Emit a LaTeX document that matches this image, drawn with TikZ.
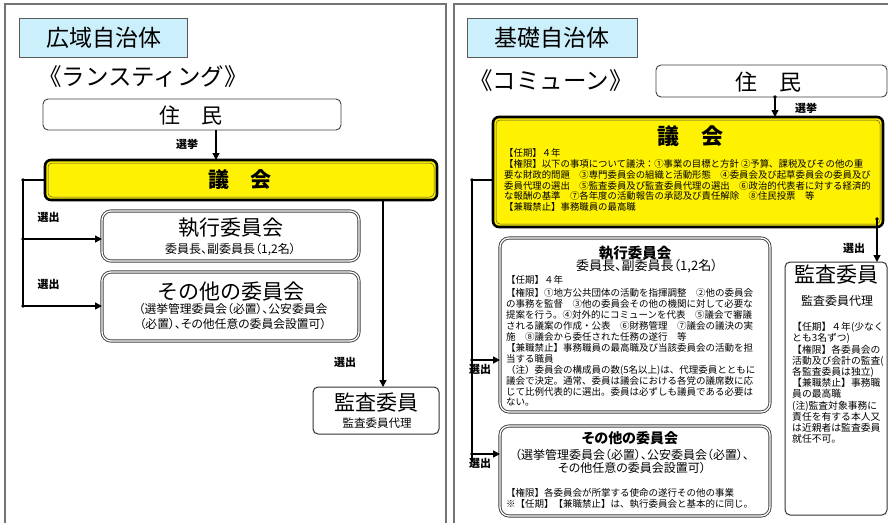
\documentclass[tikz,border=0pt]{standalone}
\usepackage{fontspec}
\setmainfont{Noto Sans CJK JP}
\newfontfamily\jpp[RawFeature=+palt]{Noto Sans CJK JP}
\usetikzlibrary{arrows.meta}
\newcommand\fsz[2]{\fontsize{#1}{#2}\selectfont}
\begin{document}
\begin{tikzpicture}[x=1pt,y=-1pt,
  panel/.style={draw=black!55,line width=1.1pt},
  box/.style={rectangle,inner sep=0pt,outer sep=0pt},
  titlebox/.style={box,draw=black!65,fill=cyan!20,line width=1pt},
  resbox/.style={box,draw=black!75,line width=0.9pt,rounded corners=5pt,fill=white},
  gikaibox/.style={box,draw=black,line width=2.6pt,rounded corners=6pt,fill=yellow},
  dblbox/.style={box,draw=black!75,double=white,double distance=1.3pt,line width=0.9pt,rounded corners=9pt},
  auditbox/.style={box,draw=black!80,line width=1pt,rounded corners=5pt,fill=white},
  conn/.style={line width=1.4pt,black},
  arr/.style={conn,-{Triangle[length=7pt,width=7pt]}},
  lbl/.style={font=\fsz{11}{11}\bfseries,inner sep=0pt},
  body/.style={anchor=north west,align=left,inner sep=0pt}
]
\useasboundingbox (0,0) rectangle (888,522);
\fill[white] (0,0) rectangle (888,522);
% panels
\draw[panel] (5,530) |- (446,4) -- (446,530);
\draw[panel] (454,530) |- (895,4);

% ================= LEFT PANEL =================
\node[titlebox,minimum width=168pt,minimum height=39pt] (tL) at (103,37.5) {};
\node[font=\fsz{23}{23}] (tLt) at (103.5,38) {広域自治体};
\node[font=\fsz{23.5}{24}] (sL) at (143,77) {《ランスティング》};

\node[resbox,minimum width=298pt,minimum height=31pt] (resL) at (192,114.5) {};
\node[font=\fsz{21}{21}] (resLt) at (191,115) {住　民};

\node[gikaibox,minimum width=392pt,minimum height=40pt] (gL) at (241,180) {};
\draw[black!60!yellow!60!black,line width=0.5pt,rounded corners=4pt]
  ([shift={(3,3)}]gL.north west) rectangle ([shift={(-3,-3)}]gL.south east);
\node[font=\fsz{21}{21}\bfseries] (gLt) at (240,180) {議　会};

\node[dblbox,minimum width=257pt,minimum height=50pt] (exL) at (230.5,236) {};
\node[font=\fsz{21}{21}] (exLt) at (230.5,228) {執行委員会};
\node[font=\jpp\fsz{12}{12}] (exLs) at (230.5,249.5) {委員長、副委員長（1,2名）};

\node[dblbox,minimum width=257pt,minimum height=69pt] (otL) at (230.5,306.5) {};
\node[font=\fsz{21}{21}] (otLt) at (231,291.5) {その他の委員会};
\node[font=\jpp\fsz{11.8}{15},align=center] (otLs) at (233,316.5) {（選挙管理委員会（必置）、公安委員会\\（必置）、その他任意の委員会設置可）};

\node[auditbox,minimum width=126pt,minimum height=47pt] (auL) at (376,410.5) {};
\node[font=\fsz{21}{21}] (auLt) at (376,402.5) {監査委員};
\node[font=\fsz{11.5}{12}] (auLs) at (377,423) {監査委員代理};

% connectors left
\draw[arr] ([xshift=24pt]resL.south) -- ([xshift=24pt]resL.south |- gL.north);
\node[lbl] (senkyoL) at (187,144) {選挙};

\coordinate (bL1) at (23,180);
\coordinate (bL2) at (23,239);
\coordinate (bL3) at (23,306);
\draw[conn] (gL.west) -- (bL1) -- (bL3);
\draw[arr] (bL2) -- (bL2 -| exL.west);
\draw[arr] (bL3) -- (bL3 -| otL.west);
\foreach \c in {bL1,bL2,bL3} \fill (\c) circle (1.9pt);
\node[lbl] (senL1) at (48.5,217) {選出};
\node[lbl] (senL2) at (48.5,284) {選出};

\coordinate (cL) at (383,201);
\draw[arr] (cL) -- (cL |- auL.north);
\node[lbl] (senL3) at (345,362) {選出};

% ================= RIGHT PANEL =================
\node[titlebox,minimum width=170pt,minimum height=39pt] (tR) at (552,37.5) {};
\node[font=\fsz{23}{23}] (tRt) at (552,38) {基礎自治体};
\node[font=\fsz{23.5}{24}] (sR) at (551,81) {《コミューン》};

\node[resbox,minimum width=231pt,minimum height=32pt] (resR) at (771.5,81) {};
\node[font=\fsz{22}{22}] (resRt) at (768,82) {住　民};

\node[gikaibox,minimum width=390pt,minimum height=110pt] (gR) at (688,172) {};
\draw[black!60!yellow!60!black,line width=0.5pt,rounded corners=4pt]
  ([shift={(3,3)}]gR.north west) rectangle ([shift={(-3,-3)}]gR.south east);
\node[font=\fsz{22}{22}\bfseries] (gRt) at (690,136.5) {議　会};
\node[body,font=\fsz{9.4}{10.8}] (gRb) at (504,148.5) {%
【任期】４年\\
【権限】以下の事項について議決：①事業の目標と方針 ②予算、課税及びその他の重\\
要な財政的問題　③専門委員会の組織と活動形態　④委員会及び起草委員会の委員及び\\
委員代理の選出　⑤監査委員及び監査委員代理の選出　⑥政治的代表者に対する経済的\\
な報酬の基準　⑦各年度の活動報告の承認及び責任解除　⑧住民投票　等\\
【兼職禁止】事務職員の最高職};

\node[dblbox,minimum width=270pt,minimum height=174pt] (exR) at (635,325) {};
\node[font=\fsz{14.5}{15}\bfseries] (exRt) at (635,253) {執行委員会};
\node[font=\jpp\fsz{13}{13}] (exRs) at (647,266.5) {委員長、副委員長（1,2名）};
\node[body,font=\fsz{9.5}{10.9}] (exRb) at (506,274.8) {%
【任期】４年\\[3pt]
【権限】①地方公共団体の活動を指揮調整　②他の委員会\\
の事務を監督　③他の委員会その他の機関に対して必要な\\
提案を行う。④対外的にコミューンを代表　⑤議会で審議\\
される議案の作成・公表　⑥財務管理　⑦議会の議決の実\\
施　⑧議会から委任された任務の遂行　等\\
【兼職禁止】事務職員の最高職及び当該委員会の活動を担\\
当する職員\\
（注）委員会の構成員の数(5名以上)は、代理委員とともに\\
議会で決定。通常、委員は議会における各党の議席数に応\\
じて比例代表的に選出。委員は必ずしも議員である必要は\\
ない。};

\node[dblbox,minimum width=270pt,minimum height=90pt] (otR) at (635,471) {};
\node[font=\jpp\fsz{14}{15}\bfseries] (otRt) at (630,438.5) {その他の委員会};
\node[font=\jpp\fsz{12}{13.2},align=center] (otRs) at (632,461.5) {（選挙管理委員会（必置）、公安委員会（必置）、\\その他任意の委員会設置可）};
\node[body,font=\fsz{9.5}{11}] (otRb) at (506,488.5) {%
【権限】各委員会が所掌する使命の遂行その他の事業\\
※【任期】【兼職禁止】は、執行委員会と基本的に同じ。};

\node[auditbox,minimum width=102pt,minimum height=253pt] (auR) at (836,388.5) {};
\node[font=\fsz{21}{21}] (auRt) at (836,275) {監査委員};
\node[font=\fsz{12}{12}] (auRs) at (837,301) {監査委員代理};
\node[body,font=\fsz{9.8}{11.2}] (auRb) at (792,322.2) {%
【任期】４年(少なく\\
とも3名ずつ)\\
【権限】各委員会の\\
活動及び会計の監査(\\
各監査委員は独立)\\
【兼職禁止】事務職\\
員の最高職\\
(注)監査対象事務に\\
責任を有する本人又\\
は近親者は監査委員\\
就任不可。};

% connectors right
\coordinate (rs) at ([xshift=3.5pt]resR.south);
\draw[arr] (rs) -- (rs |- gR.north);
\fill (rs) circle (1.8pt);
\node[lbl] (senkyoR) at (806,108) {選挙};

\coordinate (bR1) at (472,180);
\coordinate (bR2) at (472,360);
\coordinate (bR3) at (472,454);
\coordinate (bR4) at (472,462);
\draw[conn] (bR1 -| gR.west) -- (bR1) -- (bR4);
\draw[arr] (bR2) -- (bR2 -| exR.west);
\draw[arr] (bR3) -- (bR3 -| otR.west);
\foreach \c in {bR1,bR2,bR3} \fill (\c) circle (1.9pt);
\node[lbl] (senR1) at (480,369) {選出};
\node[lbl] (senR2) at (480,463) {選出};

\coordinate (cR) at (877,219);
\draw[arr] (cR) -- (cR |- auR.north);
\fill (cR) circle (1.9pt);
\node[lbl] (senR3) at (854,248) {選出};
\end{tikzpicture}
\end{document}
